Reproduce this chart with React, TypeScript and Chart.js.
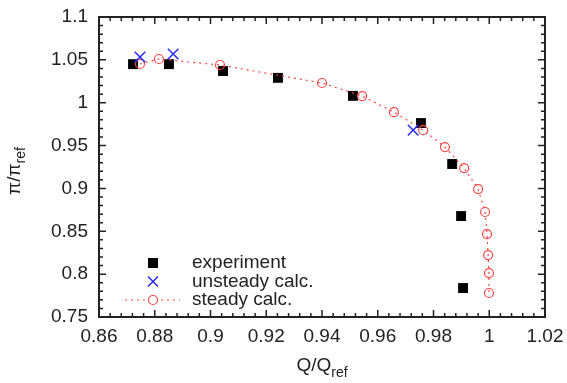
import React, { useEffect, useRef } from "react";
import { Chart, registerables } from "chart.js";

Chart.register(...registerables);

const experimentX = [0.8722, 0.8851, 0.9045, 0.9242, 0.9511, 0.9755, 0.9867, 0.9899, 0.9906];
const experimentY = [1.045, 1.045, 1.037, 1.029, 1.008, 0.9763, 0.9285, 0.8678, 0.7838];
const unsteadyX = [0.8747, 0.8866, 0.9727];
const unsteadyY = [1.0533, 1.0568, 0.968];
const steadyX = [0.8747, 0.8815, 0.9034, 0.94, 0.9544, 0.9658, 0.9763, 0.9841, 0.991, 0.996, 0.9985, 0.9992, 0.9996, 0.9999, 0.9999];
const steadyY = [1.0452, 1.051, 1.044, 1.023, 1.0078, 0.989, 0.968, 0.9483, 0.9238, 0.8993, 0.8725, 0.8468, 0.8223, 0.8013, 0.778];
const legendLabels = ["experiment", "unsteady calc.", "steady calc."];
const xTitle = ["Q/Q", "ref"];
const yTitle = ["\u03c0/\u03c0", "ref"];

const FONT = '"Liberation Sans", Arial, sans-serif';
const RED = "rgb(255,70,70)";
const BLUE = "rgb(40,40,255)";

const pts = (xs: number[], ys: number[]) => xs.map((x, i) => ({ x, y: ys[i] }));
const fmt = (v: number) => String(Number(Number(v).toFixed(3)));

const framePlugin = {
  id: "frame",
  beforeDatasetsDraw(chart: any) {
    const ctx = chart.ctx;
    const { left, right, top, bottom } = chart.chartArea;
    const xs = chart.scales.x;
    const ys = chart.scales.y;
    ctx.save();
    ctx.strokeStyle = "#222";
    ctx.lineWidth = 1.5;
    ctx.beginPath();
    for (let k = 0; k <= 40; k++) {
      const v = 0.86 + k * 0.004;
      const px = xs.getPixelForValue(v);
      const len = k % 5 === 0 ? 7 : 4;
      ctx.moveTo(px, bottom);
      ctx.lineTo(px, bottom - len);
      ctx.moveTo(px, top);
      ctx.lineTo(px, top + len);
    }
    for (let k = 0; k <= 35; k++) {
      const v = 0.75 + k * 0.01;
      const py = ys.getPixelForValue(v);
      const len = k % 5 === 0 ? 7 : 4;
      ctx.moveTo(left, py);
      ctx.lineTo(left + len, py);
      ctx.moveTo(right, py);
      ctx.lineTo(right - len, py);
    }
    ctx.stroke();
    ctx.lineWidth = 2;
    ctx.strokeRect(left, top, right - left, bottom - top);
    ctx.restore();
  },
  afterDatasetsDraw(chart: any) {
    const ctx = chart.ctx;
    ctx.save();
    const rows = [263, 281.5, 300];
    const mx = 153;
    ctx.fillStyle = "#000";
    ctx.fillRect(mx - 5, rows[0] - 5, 10, 10);
    ctx.strokeStyle = BLUE;
    ctx.lineWidth = 1.5;
    ctx.beginPath();
    ctx.moveTo(mx - 5, rows[1] - 5);
    ctx.lineTo(mx + 5, rows[1] + 5);
    ctx.moveTo(mx + 5, rows[1] - 5);
    ctx.lineTo(mx - 5, rows[1] + 5);
    ctx.stroke();
    ctx.strokeStyle = RED;
    ctx.lineWidth = 1.2;
    ctx.setLineDash([2, 4]);
    ctx.beginPath();
    ctx.moveTo(125, rows[2]);
    ctx.lineTo(180, rows[2]);
    ctx.stroke();
    ctx.setLineDash([]);
    ctx.beginPath();
    ctx.arc(mx, rows[2], 4.5, 0, Math.PI * 2);
    ctx.fillStyle = "#fff";
    ctx.fill();
    ctx.stroke();
    ctx.fillStyle = "#222";
    ctx.font = "19px " + FONT;
    ctx.textBaseline = "middle";
    ctx.textAlign = "left";
    legendLabels.forEach((t, i) => ctx.fillText(t, 192, rows[i]));
    ctx.restore();
  },
  afterDraw(chart: any) {
    const ctx = chart.ctx;
    const { left, right, top, bottom } = chart.chartArea;
    ctx.save();
    ctx.fillStyle = "#222";
    ctx.textBaseline = "alphabetic";
    ctx.textAlign = "left";
    const big = "19px " + FONT;
    const small = "14px " + FONT;
    ctx.font = big;
    const w1 = ctx.measureText(xTitle[0]).width;
    ctx.font = small;
    const w2 = ctx.measureText(xTitle[1]).width;
    const cx = (left + right) / 2;
    const x0 = cx - (w1 + w2) / 2;
    ctx.font = big;
    ctx.fillText(xTitle[0], x0, 371);
    ctx.font = small;
    ctx.fillText(xTitle[1], x0 + w1, 377);
    ctx.font = big;
    const v1 = ctx.measureText(yTitle[0]).width;
    ctx.font = small;
    const v2 = ctx.measureText(yTitle[1]).width;
    const cy = (top + bottom) / 2 + 4;
    ctx.translate(20, cy);
    ctx.rotate(-Math.PI / 2);
    const y0 = -(v1 + v2) / 2;
    ctx.font = big;
    ctx.fillText(yTitle[0], y0, 0);
    ctx.font = small;
    ctx.fillText(yTitle[1], y0 + v1, 5);
    ctx.restore();
  },
};

export default function App() {
  const ref = useRef<HTMLCanvasElement | null>(null);
  useEffect(() => {
    if (!ref.current) return;
    const chart = new Chart(ref.current, {
      type: "scatter",
      data: {
        datasets: [
          {
            label: legendLabels[0],
            data: pts(experimentX, experimentY),
            pointStyle: "rect",
            pointRadius: 7,
            pointBackgroundColor: "#000",
            pointBorderColor: "#000",
            pointBorderWidth: 0,
            showLine: false,
            order: 3,
          },
          {
            label: legendLabels[1],
            data: pts(unsteadyX, unsteadyY),
            pointStyle: "crossRot",
            pointRadius: 7.5,
            pointBorderColor: BLUE,
            pointBorderWidth: 1.5,
            showLine: false,
            order: 1,
          },
          {
            label: legendLabels[2],
            data: pts(steadyX, steadyY),
            pointStyle: "circle",
            pointRadius: 4.5,
            pointBackgroundColor: "rgba(255,255,255,0)",
            pointBorderColor: RED,
            pointBorderWidth: 1.2,
            showLine: true,
            borderColor: RED,
            borderWidth: 1.2,
            borderDash: [2, 4],
            tension: 0,
            order: 2,
          },
        ],
      },
      options: {
        responsive: false,
        animation: false,
        layout: { padding: { left: 0, right: 22, top: 17, bottom: 0 } },
        plugins: { legend: { display: false }, tooltip: { enabled: false } },
        scales: {
          x: {
            type: "linear",
            min: 0.86,
            max: 1.02,
            grid: { display: false, drawTicks: false },
            border: { display: false },
            ticks: {
              stepSize: 0.02,
              padding: 8,
              color: "#222",
              font: { family: FONT, size: 19 },
              maxRotation: 0,
              callback: (v: any) => fmt(v),
            },
            afterFit: (s: any) => {
              s.height = 66;
              s.paddingLeft = 0;
              s.paddingRight = 0;
            },
          },
          y: {
            type: "linear",
            min: 0.75,
            max: 1.1,
            grid: { display: false, drawTicks: false },
            border: { display: false },
            ticks: {
              stepSize: 0.05,
              padding: 11,
              color: "#222",
              font: { family: FONT, size: 19 },
              callback: (v: any) => fmt(v),
            },
            afterFit: (s: any) => {
              s.width = 99;
              s.paddingTop = 0;
              s.paddingBottom = 0;
            },
          },
        },
      },
      plugins: [framePlugin],
    } as any);
    return () => chart.destroy();
  }, []);
  return (
    <div style={{ position: "fixed", left: 0, top: 0, width: 567, height: 383, background: "#fff" }}>
      <canvas ref={ref} width={567} height={383} style={{ display: "block" }} />
    </div>
  );
}
